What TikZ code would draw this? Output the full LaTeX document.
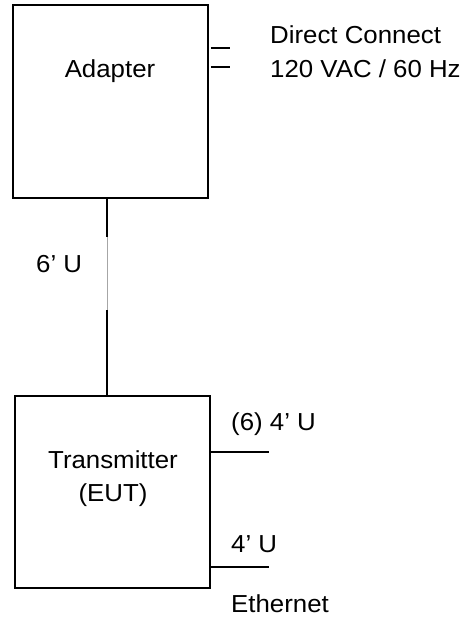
\documentclass[tikz,border=0pt]{standalone}
\usepackage{fontspec}
\setmainfont[FakeStretch=1.05]{Liberation Sans}
\begin{document}
\begin{tikzpicture}[x=1pt,y=-1pt,
  box/.style={draw=black, line width=1.6pt, rectangle, inner sep=0pt},
  lbl/.style={inner sep=0pt, anchor=base west, font=\fontsize{24.6}{28}\selectfont},
  clbl/.style={inner sep=0pt, anchor=base, font=\fontsize{24.6}{28}\selectfont, align=center},
  wire/.style={draw=black, line width=1.3pt},
  thinwire/.style={draw=black!35, line width=0.7pt}]
  \useasboundingbox (0,0) rectangle (471,620);

  % units
  \node[box, minimum width=195pt, minimum height=193pt] (adapter) at (110.5,101.5) {};
  \node[box, minimum width=195pt, minimum height=192pt] (transmitter) at (112.5,492) {};
  \node[clbl] (adaptertxt) at (110,78) {Adapter};
  \node[clbl] (txtxt) at (113,468) {Transmitter};
  \node[clbl] (euttxt) at (113,501) {(EUT)};

  % mains plug
  \coordinate (p1) at (230,48);
  \coordinate (p2) at (230,67);
  \draw[wire] ([xshift=2pt]adapter.east |- p1) -- (p1);
  \draw[wire] ([xshift=2pt]adapter.east |- p2) -- (p2);
  \node[lbl] (dc) at (270,44) {Direct Connect};
  \node[lbl] (vac) at (270,78) {120 VAC / 60 Hz};

  % DC cable between adapter and transmitter
  \coordinate (c1) at (107,237);
  \coordinate (c2) at (107,310);
  \draw[wire] (adapter.south -| c1) -- (c1);
  \draw[thinwire] (c1) -- (c2);
  \draw[wire] (c2) -- (transmitter.north -| c2);
  \node[lbl] (six) at (36,272) {6’ U};

  % transmitter outputs
  \coordinate (o1) at (269,452);
  \coordinate (o2) at (269,567);
  \draw[wire] (transmitter.east |- o1) -- (o1);
  \draw[wire] (transmitter.east |- o2) -- (o2);
  \node[lbl] (sixfour) at (231,430) {(6) 4’ U};
  \node[lbl] (four) at (231,552) {4’ U};
  \node[lbl] (eth) at (231,612) {Ethernet};
\end{tikzpicture}
\end{document}
